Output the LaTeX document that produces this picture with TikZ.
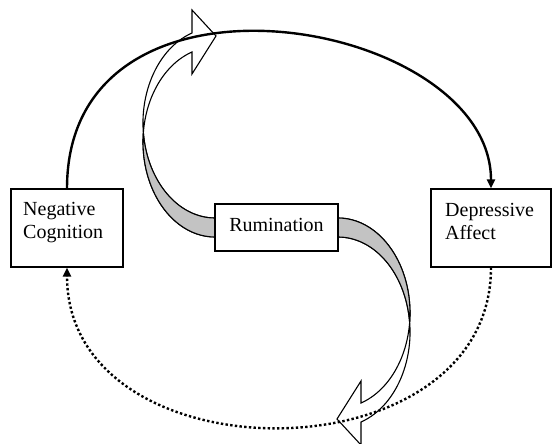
\documentclass[tikz,border=0pt]{standalone}
\usepackage{fontspec}
\setmainfont{Liberation Serif}
\usetikzlibrary{arrows.meta}
\definecolor{ribbongray}{RGB}{195,195,195}
\newcommand\ribbonpaths{%
  \path[ribbonline, fill=white] (216,-36) -- (192,-10) -- (192,-33)
    arc[start angle=108.6, end angle=270, x radius=72, y radius=95]
    -- (215,-237)
    arc[start angle=270, end angle=108.6, x radius=72, y radius=95]
    -- (192,-74) -- cycle;
  \path[ribbonline, fill=ribbongray] (143.36,-132.44)
    arc[start angle=185.7, end angle=270, x radius=72, y radius=95]
    -- (215,-237)
    arc[start angle=270, end angle=174.3, x radius=72, y radius=95]
    -- cycle;
}
\begin{document}
\begin{tikzpicture}[x=1pt,y=1pt,
  ribbonline/.style={draw=black, line width=1.1pt, line join=miter},
  box/.style={draw=black, line width=1.1pt, fill=white, inner sep=0pt},
  lbl/.style={font=\fontsize{20}{23}\selectfont, inner sep=0pt, align=left},
  solidflow/.style={line width=2.4pt, -{Triangle[length=9pt,width=8pt]}},
  dotflow/.style={line width=2.4pt, dash pattern=on 2.4pt off 2.3pt, -{Triangle[length=9pt,width=8pt]}}]
\useasboundingbox (0,0) rectangle (552,-444);
\ribbonpaths
\begin{scope}[rotate around={180:(276.5,-227.5)}]
\ribbonpaths
\end{scope}
\node[box, minimum width=112pt, minimum height=78pt] (nc) at (67,-228) {};
\node[box, minimum width=120pt, minimum height=78pt] (da) at (491,-228) {};
\node[box, minimum width=123pt, minimum height=47pt, font=\fontsize{20}{23}\selectfont, text height=14pt, text depth=6pt] (rum) at (276.5,-227.5) {Rumination};
\node[lbl, anchor=base west] (nct) at (23,-238) {Negative\\Cognition};
\node[lbl, anchor=base west] (dat) at (445,-239.5) {Depressive\\Affect};
\draw[solidflow] (nc.north) .. controls +(0,245) and +(0,170) .. (da.north);
\draw[dotflow] (da.south) .. controls +(0,-213) and +(0,-213) .. (nc.south);
\end{tikzpicture}
\end{document}
